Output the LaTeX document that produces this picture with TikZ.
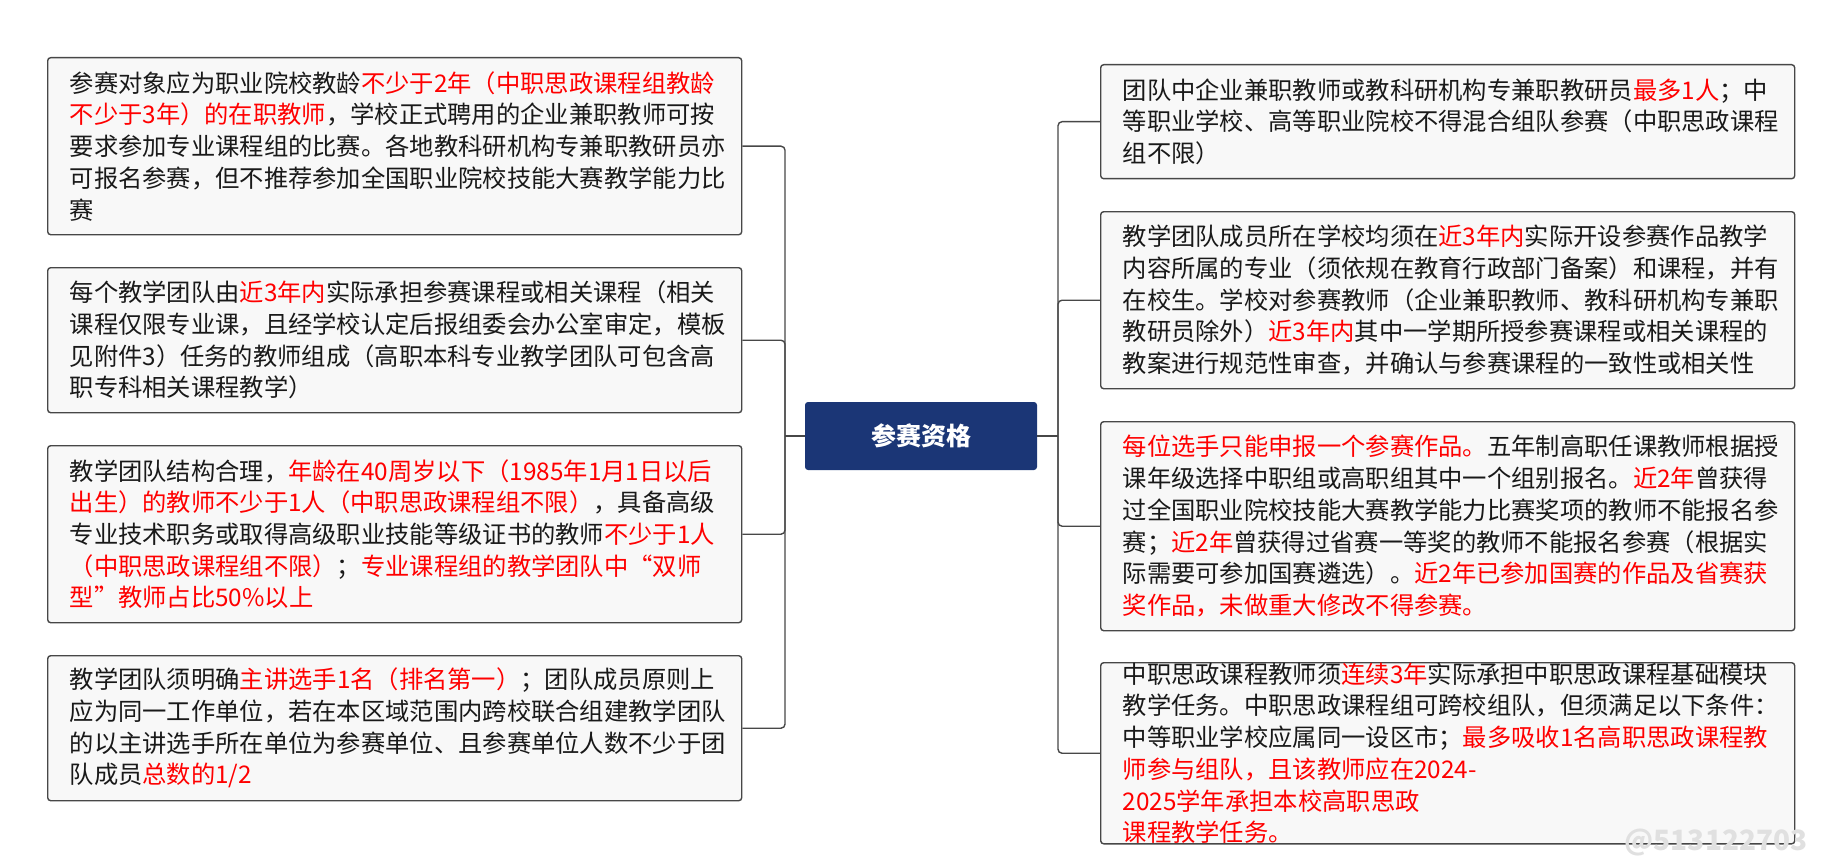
\documentclass[tikz,border=0pt]{standalone}
\usepackage{fontspec}
\setmainfont{Noto Sans CJK SC}
\usepackage{tikz}
\definecolor{boxfill}{HTML}{F8F8F8}
\definecolor{boxline}{HTML}{474747}
\definecolor{navy}{HTML}{1B3676}
\newcommand{\hl}[1]{\textcolor{red}{#1}}

\begin{document}
\begin{tikzpicture}
[
x = 1pt, y = -1pt,
item/.style = {draw = boxline, line width = 1.4pt, fill = boxfill, rounded corners = 3pt,
  anchor = north west, align = left, text width = 650pt, inner xsep = 22pt, inner ysep = 0pt,
  font = \fontsize{24.3pt}{31.7pt}\selectfont, text = black!90},
root/.style = {fill = navy, rounded corners = 3pt, minimum width = 232pt, minimum height = 68pt,
  text = white, font = \fontsize{25pt}{30pt}\selectfont\bfseries},
link/.style = {draw = boxline, line width = 1.4pt, rounded corners = 4pt},
]

\useasboundingbox (0,0) rectangle (1840,864);

\node (R) at (921, 436) [root] {参赛资格};

% left side
\node (L1) at (47, 57) [item, minimum height = 177pt] {参赛对象应为职业院校教龄\hl{不少于2年（中职思政课程组教龄}\\\hl{不少于3年）的在职教师}，学校正式聘用的企业兼职教师可按\\要求参加专业课程组的比赛。各地教科研机构专兼职教研员亦\\可报名参赛，但不推荐参加全国职业院校技能大赛教学能力比\\赛};

\node (L2) at (47, 267) [item, minimum height = 145pt] {每个教学团队由\hl{近3年内}实际承担参赛课程或相关课程（相关\\课程仅限专业课，且经学校认定后报组委会办公室审定，模板\\见附件3）任务的教师组成（高职本科专业教学团队可包含高\\职专科相关课程教学）};

\node (L3) at (47, 445) [item, minimum height = 177pt] {教学团队结构合理，\hl{年龄在40周岁以下（1985年1月1日以后}\\\hl{出生）的教师不少于1人（中职思政课程组不限）}，具备高级\\专业技术职务或取得高级职业技能等级证书的教师\hl{不少于1人}\\\hl{（中职思政课程组不限）}；\hl{专业课程组的教学团队中“双师}\\\hl{型”教师占比50\%以上}};

\node (L4) at (47, 655) [item, minimum height = 145pt] {教学团队须明确\hl{主讲选手1名（排名第一）}；团队成员原则上\\应为同一工作单位，若在本区域范围内跨校联合组建教学团队\\的以主讲选手所在单位为参赛单位、且参赛单位人数不少于团\\队成员\hl{总数的1/2}};

% right side
\node (Q1) at (1100, 64) [item, minimum height = 114pt] {团队中企业兼职教师或教科研机构专兼职教研员\hl{最多1人}；中\\等职业学校、高等职业院校不得混合组队参赛（中职思政课程\\组不限）};

\node (Q2) at (1100, 211) [item, minimum height = 177pt] {教学团队成员所在学校均须在\hl{近3年内}实际开设参赛作品教学\\内容所属的专业（须依规在教育行政部门备案）和课程，并有\\在校生。学校对参赛教师（企业兼职教师、教科研机构专兼职\\教研员除外）\hl{近3年内}其中一学期所授参赛课程或相关课程的\\教案进行规范性审查，并确认与参赛课程的一致性或相关性};

\node (Q3) at (1100, 421) [item, minimum height = 209pt] {\hl{每位选手只能申报一个参赛作品。}五年制高职任课教师根据授\\课年级选择中职组或高职组其中一个组别报名。\hl{近2年}曾获得\\过全国职业院校技能大赛教学能力比赛奖项的教师不能报名参\\赛；\hl{近2年}曾获得过省赛一等奖的教师不能报名参赛（根据实\\际需要可参加国赛遴选）。\hl{近2年已参加国赛的作品及省赛获}\\\hl{奖作品，未做重大修改不得参赛。}};

\node (Q4) at (1100, 662) [item, minimum height = 177pt] {中职思政课程教师须\hl{连续3年}实际承担中职思政课程基础模块\\教学任务。中职思政课程组可跨校组队，但须满足以下条件：\\中等职业学校应属同一设区市；\hl{最多吸收1名高职思政课程教}\\\hl{师参与组队，且该教师应在2024-2025学年承担本校高职思政}\\\hl{课程教学任务。}};

\coordinate (lj) at (785, 436);
\coordinate (rj) at (1058, 436);
\draw [link] (R.west) -- (lj);
\draw [link] (R.east) -- (rj);
\foreach \n in {L1, L2, L3, L4}
  \draw [link] (lj) |- (\n.east);
\foreach \n in {Q1, Q2, Q3, Q4}
  \draw [link] (rj) |- (\n.west);

\node (wm) at (1716, 843) [text = black!12, font = \fontsize{28pt}{30pt}\selectfont\bfseries] {@513122703};
\end{tikzpicture}
\end{document}
